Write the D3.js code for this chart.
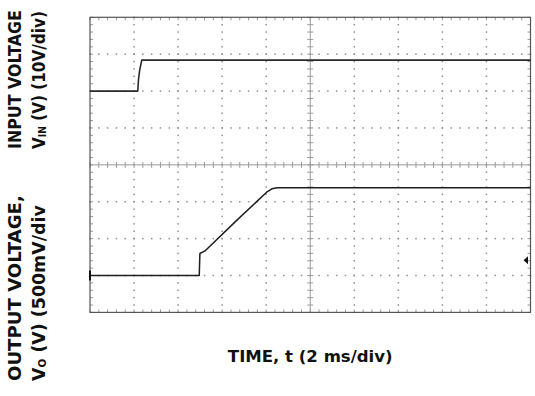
<!DOCTYPE html>
<html>
<head>
<meta charset="utf-8">
<script src="https://cdn.jsdelivr.net/npm/d3@7"></script>
<style>
  html, body { margin: 0; padding: 0; background: #fff; }
  svg { display: block; }
  .lbl { font-family: "DejaVu Sans", sans-serif; font-weight: bold; fill: #111; }
</style>
</head>
<body>
<svg id="chart" width="535" height="396"></svg>
<script>
// Scope screen: 10 horizontal divisions (2 ms/div), 8 vertical divisions.
const timeDomain = [0, 20];            // ms
const inputDomain = [-60, 20];         // V, 10 V/div, ground 2 div above centre
const outputDomain = [-0.5, 3.5];      // V, 500 mV/div, ground 1 div above bottom

// Input voltage trace (time ms, volts)
const inputTime = [0, 1.0, 2.17, 2.20, 2.25, 2.35, 20];
const inputVolts = [0, 0, 0, 3.0, 5.5, 8.4, 8.4];

// Output voltage trace (time ms, volts)
const outputTime = [0, 4.96, 4.99, 5.22, 6.6, 8.02, 8.26, 8.49, 20];
const outputVolts = [0, 0, 0.298, 0.333, 0.73, 1.129, 1.176, 1.189, 1.191];

// Trigger level marker on the output channel
const triggerLevel = 0.207;

const yLabelsTop = ["INPUT VOLTAGE", ["V", "IN", " (V) (10V/div)"]];
const yLabelsBottom = ["OUTPUT VOLTAGE,", ["V", "O", " (V) (500mV/div"]];
const xLabel = "TIME, t (2 ms/div)";

const svg = d3.select("#chart");
const L = 90, R = 530.5, T = 17.3, B = 312.4;

const x = d3.scaleLinear().domain(timeDomain).range([L, R]);
const yIn = d3.scaleLinear().domain(inputDomain).range([B, T]);
const yOut = d3.scaleLinear().domain(outputDomain).range([B, T]);

const majorT = d3.range(0, 20.001, 2);
const minorT = d3.range(0, 20.001, 0.4);
const majorV = d3.range(-0.5, 3.5001, 0.5);
const minorV = d3.range(-0.5, 3.5001, 0.1);
const centreT = 10, centreV = 1.5;

const g = svg.append("g");

// dotted graticule
const dots = [];
majorT.slice(1, -1).filter(t => t !== centreT).forEach(t => {
  minorV.forEach(v => dots.push([x(t), yOut(v)]));
});
majorV.slice(1, -1).filter(v => Math.abs(v - centreV) > 1e-6).forEach(v => {
  minorT.forEach(t => dots.push([x(t), yOut(v)]));
});
g.selectAll("rect.dot").data(dots).join("rect")
  .attr("class", "dot")
  .attr("x", d => d[0] - 0.75).attr("y", d => d[1] - 0.75)
  .attr("width", 1.5).attr("height", 1.5)
  .attr("fill", "#8f8f8f");

// centre axes with minor ticks
const axC = "#9a9a9a";
g.append("line").attr("x1", x(centreT)).attr("x2", x(centreT)).attr("y1", T).attr("y2", B)
  .attr("stroke", axC).attr("stroke-width", 1);
g.append("line").attr("x1", L).attr("x2", R).attr("y1", yOut(centreV)).attr("y2", yOut(centreV))
  .attr("stroke", axC).attr("stroke-width", 1);
g.selectAll("line.cvt").data(minorV).join("line").attr("class", "cvt")
  .attr("x1", x(centreT) - 3).attr("x2", x(centreT) + 3)
  .attr("y1", d => yOut(d)).attr("y2", d => yOut(d))
  .attr("stroke", axC).attr("stroke-width", 1);
g.selectAll("line.cht").data(minorT).join("line").attr("class", "cht")
  .attr("x1", d => x(d)).attr("x2", d => x(d))
  .attr("y1", yOut(centreV) - 3).attr("y2", yOut(centreV) + 3)
  .attr("stroke", axC).attr("stroke-width", 1);

// frame ticks
const tickC = "#9a9a9a";
g.selectAll("line.ft").data(minorT).join("line").attr("class", "ft")
  .attr("x1", d => x(d)).attr("x2", d => x(d)).attr("y1", T).attr("y2", T + 3)
  .attr("stroke", tickC);
g.selectAll("line.fb").data(minorT).join("line").attr("class", "fb")
  .attr("x1", d => x(d)).attr("x2", d => x(d)).attr("y1", B).attr("y2", B - 3)
  .attr("stroke", tickC);
g.selectAll("line.fl").data(minorV).join("line").attr("class", "fl")
  .attr("x1", L).attr("x2", L + 3).attr("y1", d => yOut(d)).attr("y2", d => yOut(d))
  .attr("stroke", tickC);
g.selectAll("line.fr").data(minorV).join("line").attr("class", "fr")
  .attr("x1", R).attr("x2", R - 3).attr("y1", d => yOut(d)).attr("y2", d => yOut(d))
  .attr("stroke", tickC);

// frame
g.append("rect").attr("x", L).attr("y", T).attr("width", R - L).attr("height", B - T)
  .attr("fill", "none").attr("stroke", "#555").attr("stroke-width", 1.2);

// traces
const lineIn = d3.line().x((d, i) => x(inputTime[i])).y(d => yIn(d));
const lineOut = d3.line().x((d, i) => x(outputTime[i])).y(d => yOut(d));
g.append("path").attr("d", lineIn(inputVolts))
  .attr("fill", "none").attr("stroke", "#2a2a2a").attr("stroke-width", 1.6)
  .attr("stroke-linejoin", "round");
g.append("path").attr("d", lineOut(outputVolts))
  .attr("fill", "none").attr("stroke", "#1e1e1e").attr("stroke-width", 1.5)
  .attr("stroke-linejoin", "round");

// output ground marker at left edge
g.append("line").attr("x1", L).attr("x2", L)
  .attr("y1", yOut(0) - 5).attr("y2", yOut(0) + 5)
  .attr("stroke", "#111").attr("stroke-width", 2);

// trigger level marker
const ty = yOut(triggerLevel), tx = R - 7;
g.append("path")
  .attr("d", `M${tx},${ty} L${tx + 4.5},${ty - 4} L${tx + 4.5},${ty + 4} Z`)
  .attr("fill", "#111");

// axis titles (rotated, reading upward), widened/narrowed to a set run length
function vlabel(parts, bx, by, size, len) {
  const t = svg.append("text").attr("class", "lbl").attr("font-size", size);
  if (typeof parts === "string") t.text(parts);
  else {
    t.append("tspan").text(parts[0]);
    t.append("tspan").text(parts[1]).attr("font-size", size * 0.6).attr("dy", 1);
    t.append("tspan").text(parts[2]).attr("dy", -1);
  }
  const k = len / t.node().getComputedTextLength();
  t.attr("transform", `translate(${bx},${by}) rotate(-90) scale(${k},1)`);
  return t;
}
vlabel(yLabelsTop[0], 21, 149, 17, 139);
vlabel(yLabelsTop[1], 45, 149, 17, 138);
vlabel(yLabelsBottom[0], 21, 381, 17, 186);
vlabel(yLabelsBottom[1], 45, 381, 17, 176);

const xt = svg.append("text").attr("class", "lbl")
  .attr("text-anchor", "middle").attr("font-size", 16.5)
  .text(xLabel);
const kx = 165 / xt.node().getComputedTextLength();
xt.attr("transform", `translate(${x(centreT)},362) scale(${kx},1)`);
</script>
</body>
</html>
